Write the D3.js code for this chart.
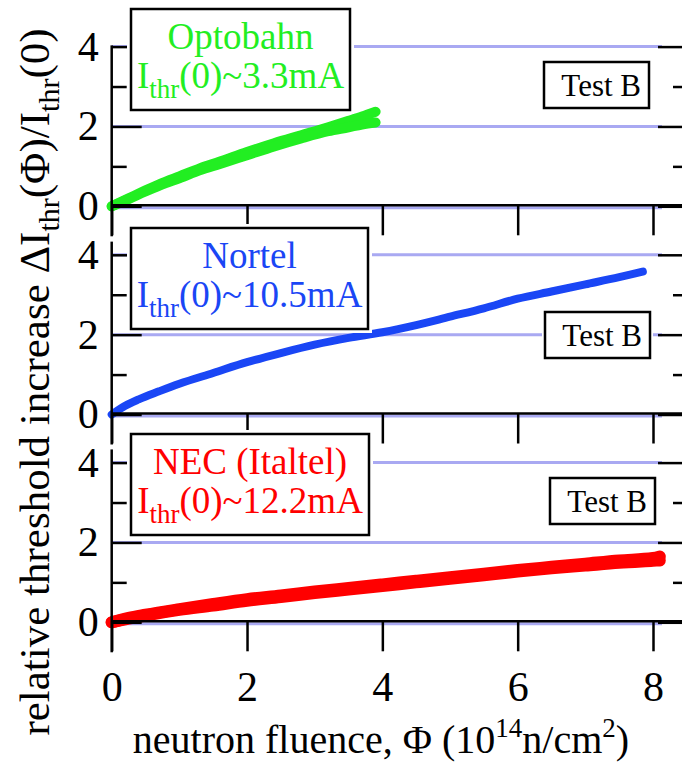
<!DOCTYPE html>
<html><head><meta charset="utf-8">
<script src="https://cdn.jsdelivr.net/npm/d3@7"></script>
<style>
body{margin:0;background:#fff}
svg{display:block}
</style>
</head><body>
<svg id="chart" width="682" height="766"></svg>
<script>
// ---------- data ----------
const xTicks = [0, 2, 4, 6, 8];
const yTicks = [0, 2, 4];
const yMinorTicks = [1, 3];
const deviceNames = ["Optobahn", "Nortel", "NEC (Italtel)"];
const thresholdCurrents = ["3.3mA", "10.5mA", "12.2mA"];
const testLabel = "Test B";

const optobahnX      = [0, 0.25, 0.5, 0.8, 1.0, 1.3, 1.6, 2.0, 2.4, 2.8, 3.2, 3.5, 3.7, 3.9];
const optobahnYUpper = [0, 0.20, 0.40, 0.62, 0.75, 0.95, 1.12, 1.36, 1.58, 1.78, 1.98, 2.14, 2.25, 2.37];
const optobahnYLower = [0, 0.18, 0.37, 0.58, 0.70, 0.90, 1.06, 1.28, 1.50, 1.70, 1.88, 1.98, 2.05, 2.10];

const nortelX = [0, 0.2, 0.4, 0.7, 1.0, 1.5, 2.0, 2.5, 3.0, 3.5, 4.0, 4.5, 5.0, 5.5, 6.0, 6.5, 7.0, 7.5, 7.85];
const nortelY = [0, 0.22, 0.38, 0.58, 0.77, 1.04, 1.31, 1.54, 1.75, 1.92, 2.06, 2.24, 2.45, 2.66, 2.90, 3.08, 3.26, 3.44, 3.58];

const necX      = [0, 0.25, 0.5, 1.0, 1.5, 2.0, 2.5, 3.0, 3.5, 4.0, 4.5, 5.0, 5.5, 6.0, 6.5, 7.0, 7.5, 8.0, 8.1];
const necYUpper = [0, 0.11, 0.19, 0.33, 0.46, 0.58, 0.67, 0.77, 0.86, 0.95, 1.04, 1.13, 1.22, 1.31, 1.39, 1.47, 1.55, 1.61, 1.65];
const necYLower = [0, 0.09, 0.17, 0.31, 0.42, 0.54, 0.63, 0.73, 0.82, 0.91, 1.00, 1.09, 1.18, 1.27, 1.35, 1.42, 1.49, 1.54, 1.55];

// ---------- styles / layout ----------
const FONT = "Liberation Serif, Tinos, Times New Roman, serif";
const colors = ["#22ee22", "#1a46f5", "#ff0000"];
const lineWidths = [10, 8, 12];
const gridColor = "#a9a9f2";

const svg = d3.select("#chart");
const xLeft = 111.7, xRightAxis = 688, gridEnd = 662;
const x = d3.scaleLinear().domain([0, 8]).range([xLeft, 653]);
const panelBottoms = [206.3, 414.5, 622.3];
const unitH = 159.7 / 4;
const axisTops = [4.03, 4.33, 4.33];
const legendBoxes = [
  {x:131, y:9,   w:219, h:101},
  {x:131, y:228, w:237, h:101},
  {x:131, y:434, w:238, h:101}
];
const testBoxes = [
  {x:544, y:62,  w:105, h:46},
  {x:545, y:312, w:105, h:46},
  {x:550, y:478, w:105, h:46}
];

const series = [
  [{xs: optobahnX, ys: optobahnYUpper}, {xs: optobahnX, ys: optobahnYLower}],
  [{xs: nortelX, ys: nortelY}],
  [{xs: necX, ys: necYUpper}, {xs: necX, ys: necYLower}]
];
const intFmt = d3.format("d");

panelBottoms.forEach((y0, i) => {
  const y = d3.scaleLinear().domain([0, 4]).range([y0, y0 - 4 * unitH]);
  const g = svg.append("g");

  // gridlines
  g.selectAll("line.grid").data(yTicks).join("line")
    .attr("x1", xLeft).attr("x2", gridEnd)
    .attr("y1", d => d === 0 ? y(d) + 1.5 : y(d))
    .attr("y2", d => d === 0 ? y(d) + 1.5 : y(d))
    .attr("stroke", gridColor).attr("stroke-width", 3);

  // data curves
  const line = d3.line().x(d => x(d[0])).y(d => y(d[1])).curve(d3.curveMonotoneX);
  series[i].forEach(s => {
    const pts = s.xs.map((v, k) => [v, s.ys[k]]);
    g.append("path").attr("d", line(pts))
      .attr("fill", "none").attr("stroke", colors[i])
      .attr("stroke-width", lineWidths[i])
      .attr("stroke-linecap", "round").attr("stroke-linejoin", "round");
  });

  // left axis (inward ticks)
  const leftAx = g.append("g").attr("transform", `translate(${xLeft},0)`)
    .call(d3.axisLeft(y).tickValues(yTicks).tickSize(-30).tickSizeOuter(0).tickPadding(13).tickFormat(intFmt));
  leftAx.attr("font-family", FONT).attr("font-size", 42);
  leftAx.select(".domain").remove();
  leftAx.selectAll(".tick line").attr("stroke", "#000").attr("stroke-width", 2.5);
  leftAx.selectAll(".tick text").attr("fill", "#000");
  const leftMinor = g.append("g").attr("transform", `translate(${xLeft},0)`)
    .call(d3.axisLeft(y).tickValues(yMinorTicks).tickSize(-15).tickSizeOuter(0).tickFormat(""));
  leftMinor.select(".domain").remove();
  leftMinor.selectAll(".tick line").attr("stroke", "#000").attr("stroke-width", 2.5);

  // right axis (inward ticks, line off-canvas)
  const rightAx = g.append("g").attr("transform", `translate(${xRightAxis},0)`)
    .call(d3.axisRight(y).tickValues(yTicks).tickSize(-30).tickSizeOuter(0).tickFormat(""));
  rightAx.select(".domain").remove();
  rightAx.selectAll(".tick line").attr("stroke", "#000").attr("stroke-width", 2.5);
  const rightMinor = g.append("g").attr("transform", `translate(${xRightAxis},0)`)
    .call(d3.axisRight(y).tickValues(yMinorTicks).tickSize(-15).tickSizeOuter(0).tickFormat(""));
  rightMinor.select(".domain").remove();
  rightMinor.selectAll(".tick line").attr("stroke", "#000").attr("stroke-width", 2.5);

  // left axis line
  g.append("line").attr("x1", xLeft).attr("x2", xLeft)
    .attr("y1", y(axisTops[i])).attr("y2", y0 + 30)
    .attr("stroke", "#000").attr("stroke-width", 2.5);

  // bottom axis (outward ticks)
  const botAx = g.append("g").attr("transform", `translate(0,${y0 - 1})`)
    .call(d3.axisBottom(x).tickValues(xTicks).tickSize(30).tickSizeOuter(0)
      .tickFormat(i === 2 ? intFmt : () => "").tickPadding(20));
  botAx.attr("font-family", FONT).attr("font-size", 42);
  botAx.select(".domain").remove();
  botAx.selectAll(".tick line").attr("stroke", "#000").attr("stroke-width", 2.5);
  botAx.selectAll(".tick text").attr("fill", "#000");
  g.append("line").attr("x1", xLeft).attr("x2", xRightAxis)
    .attr("y1", y0 - 1).attr("y2", y0 - 1)
    .attr("stroke", "#000").attr("stroke-width", 2.5);

  // legend box
  const lb = legendBoxes[i];
  g.append("rect").attr("x", lb.x - 4).attr("y", lb.y - 4).attr("width", lb.w + 8).attr("height", lb.h + 8).attr("fill", "#fff");
  g.append("rect").attr("x", lb.x).attr("y", lb.y).attr("width", lb.w).attr("height", lb.h)
    .attr("fill", "#fff").attr("stroke", "#000").attr("stroke-width", 2.5);
  const cx = lb.x + lb.w / 2;
  g.append("text").attr("x", cx).attr("y", lb.y + 40).attr("text-anchor", "middle")
    .attr("font-family", FONT).attr("font-size", 37).style("fill", colors[i]).text(deviceNames[i]);
  const t2 = g.append("text").attr("x", cx).attr("y", lb.y + 79).attr("text-anchor", "middle")
    .attr("font-family", FONT).attr("font-size", 37).style("fill", colors[i]);
  t2.append("tspan").text("I");
  t2.append("tspan").attr("font-size", 27).attr("dy", 10).text("thr");
  t2.append("tspan").attr("dy", -10).text("(0)~" + thresholdCurrents[i]);

  // test label box
  const tb = testBoxes[i];
  g.append("rect").attr("x", tb.x - 3).attr("y", tb.y - 3).attr("width", tb.w + 6).attr("height", tb.h + 6).attr("fill", "#fff");
  g.append("rect").attr("x", tb.x).attr("y", tb.y).attr("width", tb.w).attr("height", tb.h)
    .attr("fill", "#fff").attr("stroke", "#000").attr("stroke-width", 2.5);
  g.append("text").attr("x", tb.x + tb.w - 8).attr("y", tb.y + 34).attr("text-anchor", "end")
    .attr("font-family", FONT).attr("font-size", 31).attr("fill", "#000").text(testLabel);
});

// axis titles
const yt = svg.append("text").attr("transform", "translate(49,382) rotate(-90)")
  .attr("text-anchor", "middle").attr("font-family", FONT).attr("font-size", 43).attr("fill", "#000");
yt.append("tspan").text("relative threshold increase \u0394I");
yt.append("tspan").attr("font-size", 30).attr("dy", 10).text("thr");
yt.append("tspan").attr("dy", -10).text("(\u03A6)/I");
yt.append("tspan").attr("font-size", 30).attr("dy", 10).text("thr");
yt.append("tspan").attr("dy", -10).text("(0)");

const xt = svg.append("text").attr("x", 381).attr("y", 753)
  .attr("text-anchor", "middle").attr("font-family", FONT).attr("font-size", 40).attr("fill", "#000");
xt.append("tspan").text("neutron fluence, \u03A6 (10");
xt.append("tspan").attr("font-size", 27).attr("dy", -16).text("14");
xt.append("tspan").attr("dy", 16).text("n/cm");
xt.append("tspan").attr("font-size", 27).attr("dy", -16).text("2");
xt.append("tspan").attr("dy", 16).text(")");
</script>
</body></html>
